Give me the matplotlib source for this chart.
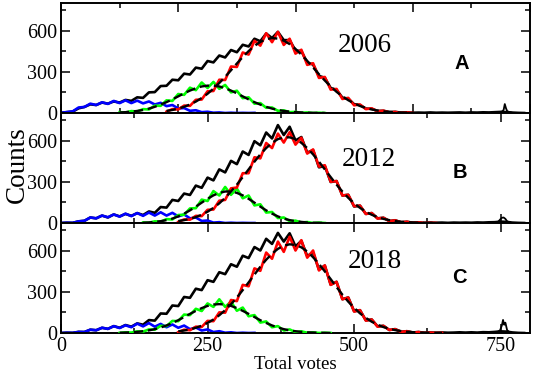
import matplotlib.pyplot as plt
import numpy as np
from matplotlib.ticker import MultipleLocator

plt.rcParams["font.family"] = "serif"
plt.rcParams["font.serif"] = ["Liberation Serif", "DejaVu Serif"]

STEP = 10  # votes per sample

# ---- 2006 (panel A) ----
A_BLACK = [2, 6, 10, 34, 44, 63, 58, 76, 68, 84,
           76, 95, 88, 114, 110, 150, 152, 196, 198, 242,
           238, 286, 280, 330, 322, 378, 368, 418, 404, 458,
           442, 496, 484, 540, 522, 578, 545, 590, 530, 530,
           455, 450, 368, 352, 270, 256, 182, 168, 112, 104,
           64, 58, 32, 30, 15, 16, 7, 8, 3, 5,
           2, 3, 2, 4, 2, 3, 2, 3, 4, 2,
           4, 3, 5, 4, 6, 8, 6, 3, 1, 0]
A_BLUE = [1, 7, 12, 40, 44, 68, 58, 78, 66, 88, 72, 92, 72, 90, 70, 84, 62,
          74, 50, 58, 33, 36, 16, 20, 6, 9, 2, 4, 0, 2, 0, 1, 0, 1]
A_GREEN_START = 100
A_GREEN = [6, 4, 14, 11, 28, 26, 54, 52, 92, 88, 138, 132, 184, 166, 222, 182,
           226, 176, 204, 150, 162, 108, 114, 68, 72, 38, 40, 16, 19, 6, 8, 2,
           4, 0, 2, 0]
A_GREEN_FIT = [4, 6, 10, 15, 22, 32, 45, 61, 79, 99, 121, 143, 163, 180, 193,
               199, 199, 193, 180, 163, 143, 121, 99, 79, 61, 45, 32, 22, 15,
               10, 6, 4, 2, 1, 1, 0]
A_RED_START = 180
A_RED = [10, 28, 26, 54, 52, 96, 98, 158, 160, 242, 240, 338, 335, 440, 425,
         525, 490, 580, 515, 590, 495, 540, 432, 460, 350, 362, 255, 262, 170,
         175, 102, 110, 56, 62, 28, 34, 12, 17, 4, 8, 1, 4, 0]
A_RED_FIT = [15, 22, 32, 45, 62, 83, 109, 140, 177, 218, 263, 311, 360, 407,
             450, 488, 517, 537, 545, 541, 526, 501, 466, 425, 379, 331, 282,
             236, 193, 154, 121, 93, 70, 51, 37, 26, 18, 12, 8, 5, 3, 2, 1]
A_SPIKE_X = [748, 752, 755, 757, 759, 761, 764, 768]
A_SPIKE_Y = [6, 10, 22, 65, 35, 14, 8, 4]

# ---- 2012 (panel B) ----
B_BLACK = [0, 2, 1, 12, 16, 40, 34, 54, 40, 62,
           48, 66, 52, 72, 58, 84, 74, 116, 112, 168,
           160, 214, 204, 272, 256, 330, 310, 390, 368, 452,
           428, 520, 495, 595, 565, 658, 615, 712, 640, 700,
           600, 625, 512, 530, 405, 415, 298, 305, 200, 205,
           120, 126, 66, 72, 34, 38, 14, 20, 5, 9,
           2, 5, 1, 3, 2, 3, 1, 3, 2, 3,
           2, 4, 3, 5, 6, 10, 8, 3, 1, 0]
B_BLUE = [0, 2, 1, 12, 16, 40, 34, 54, 42, 62, 46, 68, 50, 72, 52, 76, 54, 78,
          54, 74, 48, 62, 34, 40, 15, 18, 3, 6, 0, 2, 0, 1, 0, 0]
B_GREEN_START = 140
B_GREEN = [4, 2, 12, 10, 28, 26, 58, 60, 106, 108, 170, 160, 232, 200, 262,
           205, 250, 180, 200, 128, 136, 76, 80, 36, 40, 14, 17, 4, 7, 0, 3, 0]
B_GREEN_FIT = [2, 4, 8, 13, 21, 32, 48, 68, 92, 119, 148, 176, 201, 219, 229,
               229, 219, 201, 176, 148, 119, 92, 68, 48, 32, 21, 13, 8, 4, 2,
               1, 0]
B_RED_START = 200
B_RED = [8, 26, 24, 52, 50, 96, 98, 162, 168, 252, 258, 362, 362, 478, 470,
         582, 545, 650, 585, 660, 570, 620, 505, 535, 410, 420, 300, 305, 200,
         205, 122, 126, 66, 72, 32, 38, 14, 19, 5, 9, 1, 4, 0, 2, 0]
B_RED_FIT = [14, 21, 30, 43, 60, 82, 110, 143, 183, 229, 279, 334, 390, 446,
             499, 545, 583, 610, 623, 623, 610, 583, 545, 499, 446, 390, 334,
             279, 229, 183, 143, 110, 82, 60, 43, 30, 21, 14, 9, 6, 4, 2, 1,
             1, 0]
B_SPIKE_X = [742, 746, 749, 752, 755, 758, 761, 765]
B_SPIKE_Y = [5, 10, 25, 38, 40, 30, 12, 5]

# ---- 2018 (panel C) ----
C_BLACK = [0, 2, 1, 8, 7, 24, 20, 38, 30, 50,
           38, 58, 46, 70, 60, 94, 90, 142, 140, 200,
           196, 262, 256, 322, 312, 384, 372, 442, 428, 500,
           482, 562, 545, 625, 600, 685, 648, 728, 665, 725,
           630, 670, 560, 585, 462, 490, 352, 372, 246, 258,
           158, 166, 92, 98, 48, 52, 22, 28, 9, 13,
           4, 7, 2, 4, 2, 4, 2, 3, 5, 3,
           5, 3, 6, 5, 8, 12, 10, 4, 1, 0]
C_BLUE = [0, 2, 1, 8, 7, 24, 20, 38, 30, 50, 36, 56, 42, 68, 48, 72, 46, 66,
          42, 62, 38, 54, 28, 40, 18, 26, 7, 13, 2, 5, 0, 2, 0, 1]
C_GREEN_START = 100
C_GREEN = [1, 5, 3, 12, 10, 26, 24, 52, 50, 88, 86, 134, 130, 176, 160, 215,
           190, 245, 190, 228, 162, 185, 122, 130, 76, 84, 42, 50, 18, 26, 6,
           12, 2, 5, 0, 2, 0]
C_GREEN_FIT = [2, 3, 5, 8, 13, 19, 28, 40, 55, 73, 93, 116, 139, 161, 181, 197,
               207, 210, 207, 197, 181, 161, 139, 116, 93, 73, 55, 40, 28, 19,
               13, 8, 5, 3, 2, 1, 0]
C_RED_START = 200
C_RED = [6, 24, 20, 46, 44, 88, 86, 150, 148, 240, 232, 350, 340, 470, 452,
         585, 540, 665, 590, 700, 600, 675, 548, 600, 455, 492, 350, 372, 245,
         258, 156, 166, 90, 98, 46, 52, 22, 28, 8, 13, 3, 7, 0, 3, 0, 1]
C_RED_FIT = [12, 18, 26, 38, 53, 73, 98, 129, 166, 209, 258, 312, 368, 425,
             482, 533, 577, 612, 635, 645, 640, 623, 593, 551, 502, 448, 392,
             334, 279, 228, 183, 143, 110, 82, 60, 43, 31, 21, 14, 9, 6, 4, 2,
             1, 1, 0]
C_SPIKE_X = [745, 749, 752, 754, 756, 758, 761, 765]
C_SPIKE_Y = [8, 20, 55, 95, 60, 75, 20, 6]

YEARS = ["2006", "2012", "2018"]
PANEL_TAGS = ["A", "B", "C"]


def votes(start, vals):
    return start + STEP * np.arange(len(vals))


def draw_panel(ax, black, blue, green_start, green, green_fit,
               red_start, red, red_fit, spike_x, spike_y):
    lw = 1.9
    ax.plot(votes(0, black), black, color="black", lw=lw, zorder=1)
    ax.plot(spike_x, spike_y, color="black", lw=1.3, zorder=1)
    ax.plot(votes(0, blue), blue, color="#0000ff", lw=lw, zorder=2)
    ax.plot(votes(green_start, green), green, color="#00ff00", lw=lw, zorder=3)
    ax.plot(votes(red_start, red), red, color="#ff0000", lw=lw, zorder=4)
    ax.plot(votes(green_start, green_fit), green_fit, color="black", lw=1.7,
            dashes=(4, 2), zorder=5)
    ax.plot(votes(red_start, red_fit), red_fit, color="black", lw=1.7,
            dashes=(4, 2), zorder=5)


fig = plt.figure(figsize=(5.33, 3.72), dpi=100)
gs = fig.add_gridspec(3, 1, left=61 / 533, right=530 / 533,
                      top=1 - 3 / 372, bottom=1 - 333 / 372, hspace=0)
axes = [fig.add_subplot(gs[i]) for i in range(3)]

draw_panel(axes[0], A_BLACK, A_BLUE, A_GREEN_START, A_GREEN, A_GREEN_FIT,
           A_RED_START, A_RED, A_RED_FIT, A_SPIKE_X, A_SPIKE_Y)
draw_panel(axes[1], B_BLACK, B_BLUE, B_GREEN_START, B_GREEN, B_GREEN_FIT,
           B_RED_START, B_RED, B_RED_FIT, B_SPIKE_X, B_SPIKE_Y)
draw_panel(axes[2], C_BLACK, C_BLUE, C_GREEN_START, C_GREEN, C_GREEN_FIT,
           C_RED_START, C_RED, C_RED_FIT, C_SPIKE_X, C_SPIKE_Y)

year_pos = [(518, 490), (526, 461), (535, 520)]
tag_pos = [(683, 359), (680, 366), (680, 403)]

for i, ax in enumerate(axes):
    ax.set_xlim(0, 800)
    ax.set_ylim(0, 800)
    if i == 0:
        ax.xaxis.set_major_locator(MultipleLocator(200))
        ax.xaxis.set_minor_locator(MultipleLocator(100))
    else:
        ax.xaxis.set_major_locator(MultipleLocator(250))
        ax.xaxis.set_minor_locator(MultipleLocator(125))
    ax.yaxis.set_major_locator(MultipleLocator(300))
    ax.yaxis.set_minor_locator(MultipleLocator(150))
    ax.tick_params(which="both", direction="in", top=True, right=True,
                   labelsize=14.5, pad=3)
    ax.tick_params(which="major", length=6.5, width=1.1)
    ax.tick_params(which="minor", length=3.5, width=1.1)
    ax.tick_params(axis="x", labelbottom=(i == 2))
    for sp in ax.spines.values():
        sp.set_linewidth(1.4)
    ax.text(*year_pos[i], YEARS[i], fontsize=19.5, ha="center", va="center")
    ax.text(*tag_pos[i], PANEL_TAGS[i], fontsize=14.5, fontweight="bold",
            family="Liberation Sans", ha="center", va="center")

axes[2].set_xlabel("Total votes", fontsize=13.5, labelpad=0)
fig.text(17 / 533, 1 - 165 / 372, "Counts", fontsize=19.5, rotation=90,
         ha="center", va="center")

fig.savefig("out.png", dpi=100)
